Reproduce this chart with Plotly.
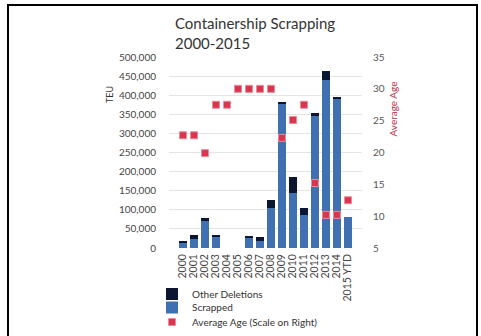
import plotly.graph_objects as go

years = ["2000", "2001", "2002", "2003", "2004", "2005", "2006", "2007",
         "2008", "2009", "2010", "2011", "2012", "2013", "2014", "2015 YTD"]
scrapped = [14000, 24000, 70000, 30000, 0, 0, 27000, 18000,
            105000, 376000, 144000, 87000, 348000, 440000, 391000, 82000]
other_deletions = [4000, 10000, 8000, 4000, 0, 0, 2000, 12000,
                   21000, 6000, 42000, 18000, 5000, 24000, 4000, 0]
average_age = [22.7, 22.7, 19.9, 27.5, 27.5, 30, 30, 30,
               30, 22.3, 25.1, 27.5, 15.2, 10.2, 10.2, 12.5]

FONT = "Lato"
W, H = 481, 336
L, R, T, B = 169, 362, 57, 248

def px(xp):
    return (xp - L) / (R - L)

def py(yp):
    return (B - yp) / (B - T)

fig = go.Figure()
fig.add_trace(go.Bar(x=years, y=scrapped, name="Scrapped",
                     marker=dict(color="#3f70b2", line=dict(width=0)),
                     legend="legend2"))
fig.add_trace(go.Bar(x=years, y=other_deletions, name="Other Deletions",
                     marker=dict(color="#0d1630", line=dict(width=0)),
                     legend="legend"))
fig.add_trace(go.Scatter(x=years, y=average_age, name="Average Age (Scale on Right)",
                         mode="markers", yaxis="y2",
                         marker=dict(symbol="square", size=7, color="#d8364f",
                                     line=dict(color="#f08a98", width=1)),
                         legend="legend3"))

leg_common = dict(xanchor="left", yanchor="middle", orientation="v",
                  font=dict(size=10, color="#333"), bgcolor="rgba(0,0,0,0)",
                  itemwidth=30)

fig.update_layout(
    width=W, height=H,
    margin=dict(l=L, r=W - R, t=T, b=H - B, pad=0, autoexpand=False),
    paper_bgcolor="white", plot_bgcolor="white",
    barmode="stack", bargap=0.24,
    font=dict(family=FONT, size=10, color="#444"),
    showlegend=True,
    legend=dict(x=px(152), y=py(294), **leg_common),
    legend2=dict(x=px(152), y=py(307.5), **leg_common),
    legend3=dict(x=px(152), y=py(322), **leg_common),
    xaxis=dict(type="category", tickangle=-90, showgrid=False, ticks="",
               showline=False, tickmode="array", tickvals=years, ticktext=years,
               automargin=False,
               tickfont=dict(size=10.5, color="#444"), ticklabelstandoff=3),
    yaxis=dict(range=[0, 500000], dtick=50000, tickformat=",d",
               showgrid=True, gridcolor="#e4e4e4", gridwidth=1, automargin=False,
               zeroline=False, showline=False, ticks="",
               tickfont=dict(size=10, color="#444"), ticklabelstandoff=12),
    yaxis2=dict(range=[5, 35], dtick=5, overlaying="y", side="right",
                showgrid=False, zeroline=False, showline=False, ticks="",
                automargin=False,
                tickfont=dict(size=10, color="#555"), ticklabelstandoff=10),
)

fig.add_annotation(text="Containership Scrapping<br>2000-2015", xref="paper", yref="paper",
                   x=px(173), y=py(12), xanchor="left", yanchor="top", align="left",
                   showarrow=False, font=dict(family=FONT, size=15, color="#333"))
fig.add_annotation(text="TEU", xref="paper", yref="paper", x=px(102), y=py(84),
                   textangle=-90, showarrow=False,
                   font=dict(family=FONT, size=9, color="#333"))
fig.add_annotation(text="Average Age", xref="paper", yref="paper", x=px(400), y=py(80),
                   textangle=-90, showarrow=False,
                   font=dict(family=FONT, size=10, color="#c0304a"))

fig.add_shape(type="rect", xref="paper", yref="paper",
              x0=px(8), x1=px(477), y0=py(345), y1=py(5),
              line=dict(color="black", width=2), fillcolor="rgba(0,0,0,0)")

fig.write_html("out.html")
